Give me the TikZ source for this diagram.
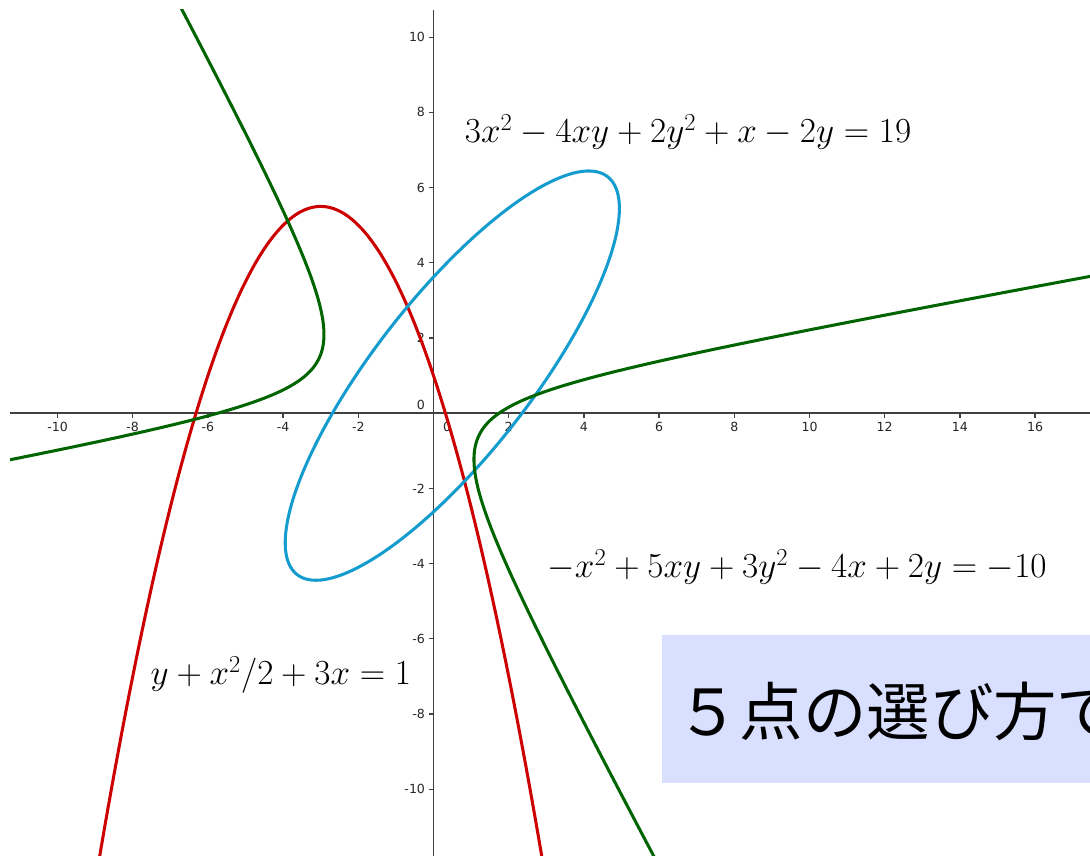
\documentclass[tikz,border=0pt]{standalone}
\usepackage{fontspec}
\usepackage{amsmath}
\DeclareMathSizes{24.88}{24.88}{17.28}{12}
\newfontfamily\jpfont{Noto Sans CJK JP}
\newfontfamily\tickfont{DejaVu Sans}
\usetikzlibrary{positioning}
\definecolor{conicred}{RGB}{204,0,0}
\definecolor{conicblue}{RGB}{21,156,206}
\definecolor{conicgreen}{RGB}{0,100,0}
\definecolor{boxlavender}{RGB}{217,224,255}

\begin{document}
\begin{tikzpicture}[
    x=1cm, y=1cm,
    conic/.style={line width=2.3pt, line join=round},
    axisline/.style={line width=1.3pt, black!75},
    tickmark/.style={line width=1pt, black!75},
    ticklabel/.style={font=\tickfont\fontsize{9.5}{11}\selectfont, text=black!85, inner sep=0pt},
    eqn/.style={font=\fontsize{24.88}{30}\selectfont, inner sep=0pt, scale=1.07}
]
    \useasboundingbox (-11.53,-11.77) rectangle (17.46,10.99);

    % caption box, cut at the right edge
    \fill[boxlavender] (6.08,-5.90) rectangle (17.46,-9.83);
    \begin{scope}
        \clip (-11.53,-11.77) rectangle (17.46,10.99);
        \node[anchor=west, inner sep=0pt, font=\jpfont\fontsize{48}{56}\selectfont] (caption) at (6.45,-7.92) {５点の選び方で};
    \end{scope}

    % axes
    \draw[axisline] (-11.26,0) -- (17.46,0);
    \draw[axisline] (0,10.73) -- (0,-11.77);
    \foreach \x in {-10,-8,-6,-4,-2,2,4,6,8,10,12,14,16} {
        \draw[tickmark] (\x,0) -- (\x,-0.13);
        \node[ticklabel] (xl\x) at (\x,-0.36) {\x};
    }
    \foreach \y in {-10,-8,-6,-4,-2,2,4,6,8,10} {
        \draw[tickmark] (0,\y) -- (-0.13,\y);
        \node[ticklabel, anchor=east] (yl\y) at (-0.22,\y) {\y};
    }
    \node[ticklabel] (xl0) at (0.36,-0.36) {0};
    \node[ticklabel, anchor=east] (yl0) at (-0.22,0.22) {0};

    % the three conics
    \begin{scope}
        \clip (-11.26,-11.77) rectangle (17.46,10.73);
        \draw[conic, conicred] plot[domain=-9.1:3.1, samples=160, smooth] (\x, {1-3*\x-0.5*\x*\x});
        \draw[conic, conicblue] plot[domain=0:360, samples=200, smooth, variable=\t]
            ({0.5+4.4441*cos(\t)}, {1+4.4441*cos(\t)+3.1425*sin(\t)}) -- cycle;
        \draw[conic, conicgreen] plot[domain=-2:10.9, samples=300, smooth, variable=\y]
            ({(5*\y-4-sqrt(37*\y*\y-32*\y+56))/2}, \y);
        \draw[conic, conicgreen] plot[domain=-11.9:4, samples=300, smooth, variable=\y]
            ({(5*\y-4+sqrt(37*\y*\y-32*\y+56))/2}, \y);
    \end{scope}

    \node[eqn] (ellipseeq) at (6.77,7.48) {$3x^2-4xy+2y^2+x-2y=19$};
    \node[eqn] (hyperbolaeq) at (9.67,-4.09) {$-x^2+5xy+3y^2-4x+2y=-10$};
    \node[eqn] (parabolaeq) at (-4.06,-6.96) {$y+x^2/2+3x=1$};
\end{tikzpicture}
\end{document}
